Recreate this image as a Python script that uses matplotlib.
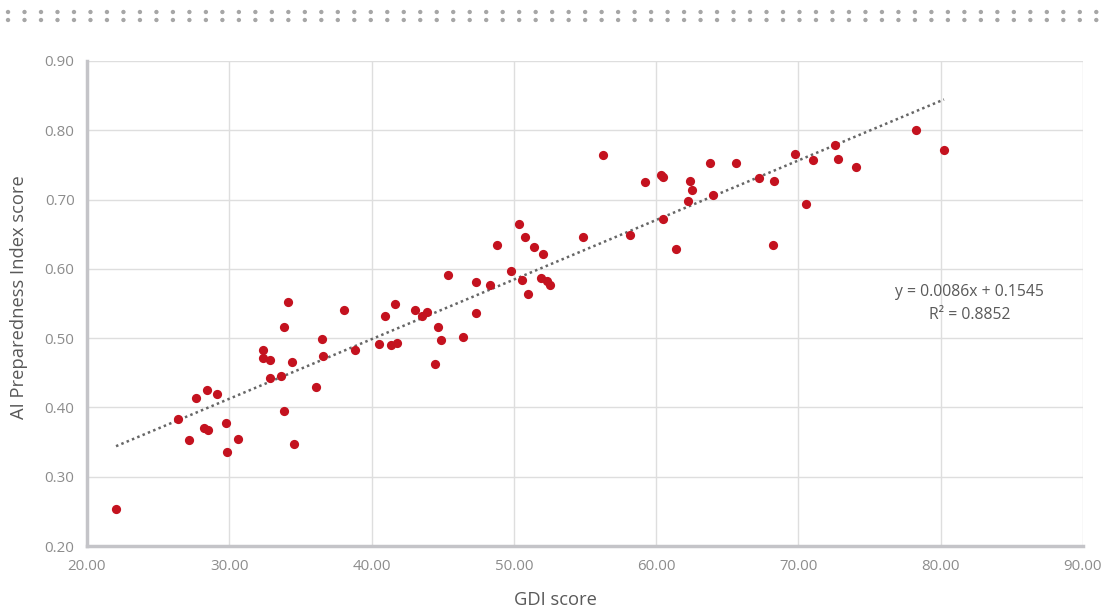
import matplotlib
matplotlib.use("Agg")
import matplotlib.pyplot as plt
from matplotlib.lines import Line2D
import numpy as np

gdi = [22.04, 26.40, 27.17, 27.66, 28.22, 28.43, 28.50, 29.14, 29.77, 29.84, 30.61,
       32.37, 32.37, 32.86, 32.86, 33.63, 33.84, 33.84, 34.13, 34.41, 34.55,
       36.09, 36.51, 36.58, 38.06, 38.83, 40.52, 40.94, 41.36, 41.64, 41.78,
       43.05, 43.54, 43.89, 44.67, 44.46, 44.88, 45.37, 46.43, 47.34, 47.34,
       48.32, 48.81, 49.80, 50.36, 50.57, 50.78, 51.00, 51.41, 51.91, 52.05,
       52.33, 52.54, 54.86, 56.27, 58.16, 59.21, 60.34, 60.48, 60.48, 61.39,
       62.38, 62.52, 62.24, 63.78, 64.00, 65.61, 67.23, 68.28, 68.21, 69.75,
       70.53, 71.02, 72.56, 72.77, 74.04, 78.26, 80.23]
aipi = [0.253, 0.383, 0.353, 0.414, 0.370, 0.425, 0.368, 0.419, 0.377, 0.336, 0.354,
        0.483, 0.471, 0.468, 0.442, 0.445, 0.516, 0.395, 0.552, 0.466, 0.347,
        0.429, 0.499, 0.474, 0.541, 0.483, 0.491, 0.532, 0.490, 0.549, 0.493,
        0.541, 0.532, 0.538, 0.516, 0.463, 0.497, 0.591, 0.502, 0.581, 0.536,
        0.577, 0.634, 0.597, 0.665, 0.584, 0.646, 0.564, 0.632, 0.587, 0.621,
        0.582, 0.577, 0.646, 0.764, 0.649, 0.725, 0.735, 0.732, 0.672, 0.629,
        0.727, 0.714, 0.698, 0.753, 0.707, 0.753, 0.731, 0.727, 0.634, 0.766,
        0.694, 0.757, 0.779, 0.758, 0.747, 0.800, 0.771]

slope = 0.0086
intercept = 0.1545
r_squared = 0.8852

x_ticks = [20, 30, 40, 50, 60, 70, 80, 90]
y_ticks = [0.20, 0.30, 0.40, 0.50, 0.60, 0.70, 0.80, 0.90]

plt.rcParams['font.family'] = ['Open Sans', 'DejaVu Sans']

fig = plt.figure(figsize=(11.11, 6.11), dpi=100)
ax = fig.add_axes([87/1111, 65/611, (1083-87)/1111, (546-61)/611])

ax.set_xlim(20, 90)
ax.set_ylim(0.20, 0.90)
ax.set_xticks(x_ticks)
ax.set_yticks(y_ticks)
ax.set_xticklabels([f"{v:.2f}" for v in x_ticks])
ax.set_yticklabels([f"{v:.2f}" for v in y_ticks])
ax.tick_params(length=0, labelsize=10.8, colors='#8c8c8c')
ax.tick_params(axis='x', pad=9)
ax.tick_params(axis='y', pad=9)
ax.grid(True, color='#dedede', linewidth=1.0, zorder=0)
ax.set_axisbelow(True)
for s in ['top', 'right']:
    ax.spines[s].set_visible(False)
for s in ['left', 'bottom']:
    ax.spines[s].set_color('#c4c4c8')
    ax.spines[s].set_linewidth(2.5)

ax.scatter(gdi, aipi, s=44, color='#c4121f', zorder=3, linewidths=0)

xs = np.array([min(gdi), max(gdi)])
ax.plot(xs, slope * xs + intercept, color='#666666', linewidth=1.8,
        linestyle=(0, (1, 1.3)), zorder=2)

ax.text(82.05, 0.5665, f"y = {slope:.4f}x + {intercept:.4f}",
        ha='center', va='center', fontsize=11.3, color='#595959')
ax.text(82.05, 0.5333, f"R² = {r_squared:.4f}",
        ha='center', va='center', fontsize=11.3, color='#595959')

fig.text(555/1111, 1 - 600/611, "GDI score", fontsize=13.2, color='#595959',
         ha='center', va='center')
fig.text(19/1111, 1 - 297/611, "AI Preparedness Index score", fontsize=13.2,
         color='#595959', ha='center', va='center', rotation=90)

for yy in [12, 20]:
    fig.add_artist(Line2D([8/1111, 1105/1111], [1 - yy/611, 1 - yy/611],
                          transform=fig.transFigure, color='#a6a6a6',
                          linewidth=3.2, linestyle=(0, (0.01, 3.7)),
                          solid_capstyle='round', dash_capstyle='round'))

fig.savefig("out.png", dpi=100)
